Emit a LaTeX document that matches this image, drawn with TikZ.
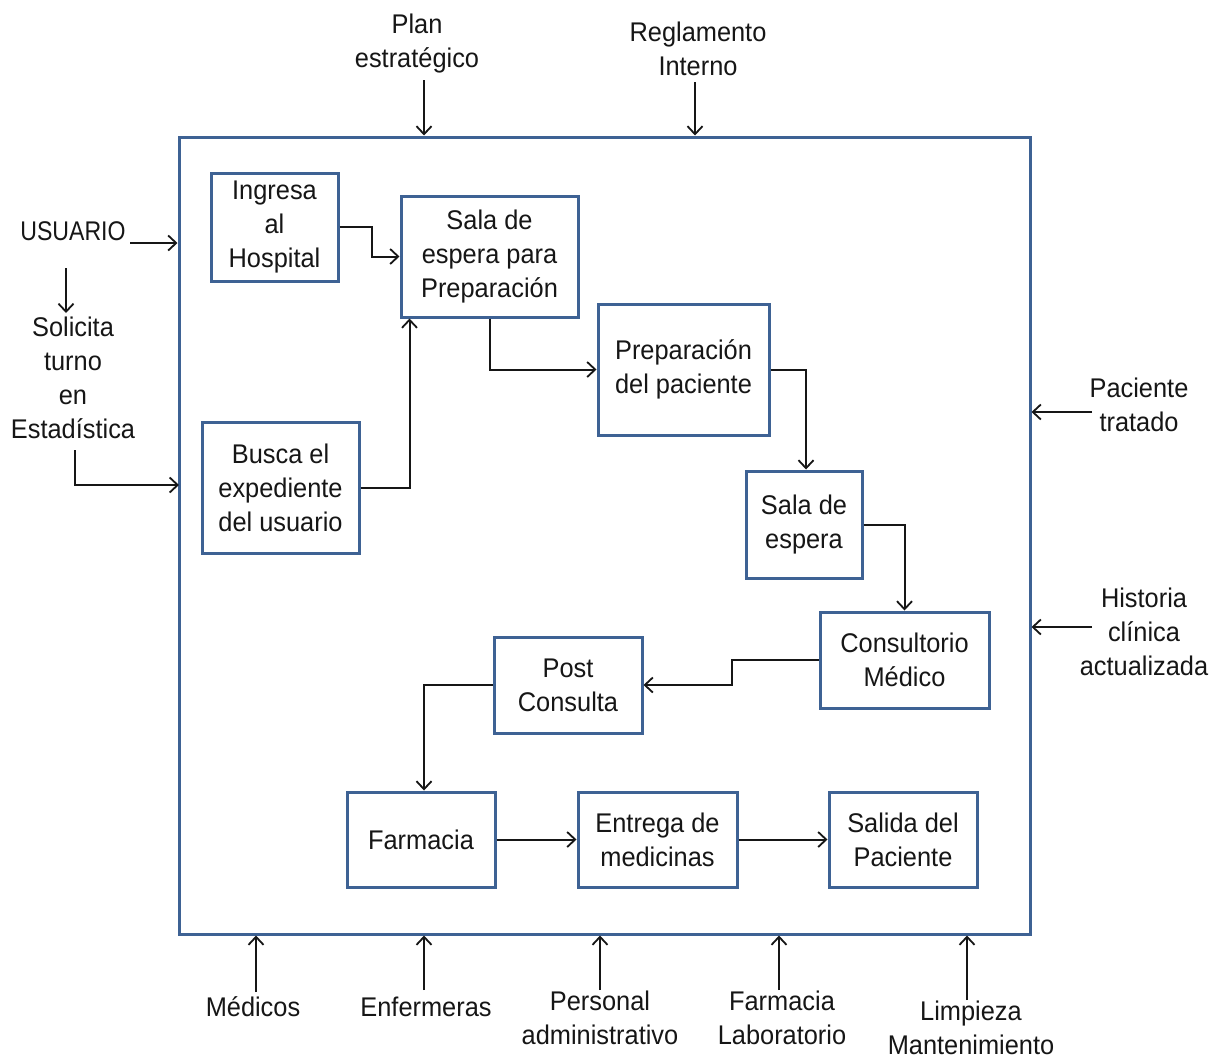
\documentclass[tikz,border=0pt]{standalone}
\usepackage{fontspec}
\setmainfont[FakeStretch=0.94]{Liberation Sans}
\usetikzlibrary{arrows.meta,calc}
\definecolor{boxblue}{RGB}{62,98,148}
\definecolor{ink}{RGB}{22,22,22}
\begin{document}
\begin{tikzpicture}[x=1pt,y=-1pt,
  every node/.style={font=\fontsize{27}{34}\selectfont, text=ink, align=center, inner sep=0pt},
  stage/.style={draw=boxblue, line width=3pt, fill=white},
  link/.style={draw=ink, line width=2pt},
  arr/.style={link, -{Straight Barb[length=8pt,width=15pt,line width=1.8pt]}}]
\useasboundingbox[fill=white] (0,0) rectangle (1212,1058);

% system boundary
\node[draw=boxblue, line width=3pt, minimum width=851pt, minimum height=797pt] (frame) at (604.5,535.5) {};

% process stages
\node[stage, minimum width=127pt, minimum height=108pt] (ing)   at (274.5,227)  {Ingresa\\al\\Hospital};
\node[stage, minimum width=177pt, minimum height=121pt] (sala1) at (489.5,256.5) {Sala de\\espera para\\Preparación};
\node[stage, minimum width=171pt, minimum height=131pt] (prep)  at (683.5,369.5) {Preparación\\del paciente};
\node[stage, minimum width=157pt, minimum height=131pt] (busca) at (280.5,487.5) {Busca el\\expediente\\del usuario};
\node[stage, minimum width=116pt, minimum height=107pt] (sala2) at (804,524.5)  {Sala de\\espera};
\node[stage, minimum width=169pt, minimum height=96pt]  (cons)  at (904.5,660)  {Consultorio\\Médico};
\node[stage, minimum width=148pt, minimum height=96pt]  (post)  at (568,685)    {Post\\Consulta};
\node[stage, minimum width=148pt, minimum height=95pt]  (farm)  at (421,839.5)  {Farmacia};
\node[stage, minimum width=159pt, minimum height=95pt]  (entr)  at (657.5,839.5) {Entrega de\\medicinas};
\node[stage, minimum width=148pt, minimum height=95pt]  (sal)   at (903,839.5)  {Salida del\\Paciente};

% flow between stages
\draw[arr] (ing.east) -- ++(32,0) |- (sala1.west);
\draw[arr] (busca.east) -| ($(sala1.south west)+(10,0)$);
\draw[arr] (sala1.south) |- (prep.west);
\draw[arr] (prep.east) -| ($(sala2.north)+(2,0)$);
\draw[arr] (sala2.east) -| (cons.north);
\draw[arr] (cons.west) -- ++(-87,0) |- (post.east);
\draw[arr] (post.west) -| ($(farm.north)+(3,0)$);
\draw[arr] (farm.east) -- (entr.west);
\draw[arr] (entr.east) -- (sal.west);

% inputs on the left
\node (usr) at (73,231) {\scalebox{0.91}[1]{USUARIO}};
\node (sol) at (73,378) {Solicita\\turno\\en\\Estadística};
\coordinate (usrout) at (130,243);
\coordinate (usrdown) at (66,268);
\coordinate (soltop) at (66,313);
\coordinate (solout) at (75,450);
\coordinate (solin) at (179,485);
\draw[arr] (usrout) -- (usrout -| frame.west);
\draw[arr] (usrdown) -- (soltop);
\draw[arr] (solout) |- (solin);

% controls on top
\node (plan) at (417,44)  {Plan\\estratégico};
\node (regl) at (698,49)  {Reglamento\\Interno};
\coordinate (planin) at (424,80);
\coordinate (reglin) at (695,82);
\draw[arr] (planin) -- (planin |- frame.north);
\draw[arr] (reglin) -- (reglin |- frame.north);

% outputs on the right
\node (pac)  at (1139,405) {Paciente\\tratado};
\node (hist) at (1144,632) {Historia\\clínica\\actualizada};
\coordinate (pacin)  at (1092,412);
\coordinate (histin) at (1092,627);
\draw[arr] (pacin) -- (pacin -| frame.east);
\draw[arr] (histin) -- (histin -| frame.east);

% resources at the bottom
\node (med)  at (253,1007) {Médicos};
\node (enf)  at (426,1007) {Enfermeras};
\node (pers) at (600,1018) {Personal\\administrativo};
\node (flab) at (782,1018) {Farmacia\\Laboratorio};
\node (limp) at (971,1028) {Limpieza\\Mantenimiento};
\coordinate (medup)  at (256,992);
\coordinate (enfup)  at (424,990);
\coordinate (persup) at (600,990);
\coordinate (flabup) at (779,990);
\coordinate (limpup) at (967,1000);
\draw[arr] (medup)  -- (medup  |- frame.south);
\draw[arr] (enfup)  -- (enfup  |- frame.south);
\draw[arr] (persup) -- (persup |- frame.south);
\draw[arr] (flabup) -- (flabup |- frame.south);
\draw[arr] (limpup) -- (limpup |- frame.south);
\end{tikzpicture}
\end{document}
